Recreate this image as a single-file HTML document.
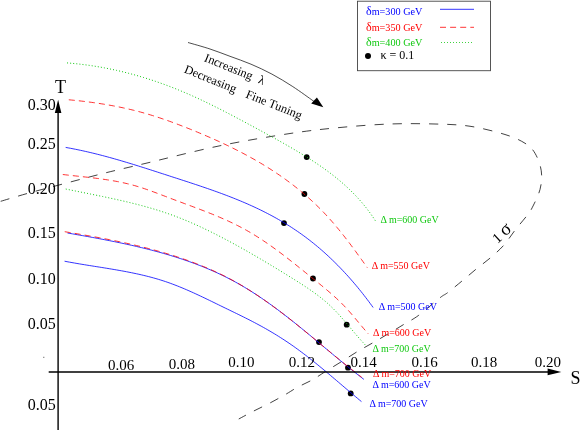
<!DOCTYPE html>
<html><head><meta charset="utf-8"><title>S-T plot</title>
<style>
html,body{margin:0;padding:0;background:#fff;}
body{width:581px;height:430px;overflow:hidden;font-family:"Liberation Serif",serif;}
svg{display:block;position:absolute;left:0;top:0;will-change:transform;}
svg text{font-family:"Liberation Serif",serif;}
</style></head><body>
<svg width="581" height="430" viewBox="0 0 581 430">
<rect width="581" height="430" fill="#fff"/>
<path d="M0.70,201.30 C5.12,200.00 17.48,196.22 27.20,193.50 C36.92,190.78 46.03,188.42 59.00,185.00 C71.97,181.58 90.67,176.58 105.00,173.00 C119.33,169.42 125.83,168.04 145.00,163.50 C164.17,158.96 195.83,150.75 220.00,145.75 C244.17,140.75 270.00,136.54 290.00,133.50 C310.00,130.46 323.33,129.08 340.00,127.50 C356.67,125.92 374.17,124.58 390.00,124.00 C405.83,123.42 421.67,123.62 435.00,124.00 C448.33,124.38 458.33,124.50 470.00,126.25 C481.67,128.00 495.83,131.67 505.00,134.50 C514.17,137.33 520.00,140.12 525.00,143.25 C530.00,146.38 532.29,148.67 535.00,153.25 C537.71,157.83 540.42,164.71 541.25,170.75 C542.08,176.79 541.67,183.04 540.00,189.50 C538.33,195.96 533.54,205.00 531.25,209.50 C528.96,214.00 528.96,213.04 526.25,216.50 C523.54,219.96 518.75,225.46 515.00,230.25 C511.25,235.04 507.83,240.67 503.75,245.25 C499.67,249.83 495.08,253.79 490.50,257.75 C485.92,261.71 481.00,265.12 476.25,269.00 C471.50,272.88 466.79,277.04 462.00,281.00 C457.21,284.96 451.17,289.96 447.50,292.75 C443.83,295.54 444.79,294.00 440.00,297.75 C435.21,301.50 424.67,310.88 418.75,315.25 C412.83,319.62 409.50,320.96 404.50,324.00 C399.50,327.04 394.08,330.33 388.75,333.50 C383.42,336.67 377.71,340.00 372.50,343.00 C367.29,346.00 362.50,348.50 357.50,351.50 C352.50,354.50 347.71,357.75 342.50,361.00 C337.29,364.25 331.25,367.88 326.25,371.00 C321.25,374.12 317.29,377.04 312.50,379.75 C307.71,382.46 301.88,384.88 297.50,387.25 C293.12,389.62 290.83,391.38 286.25,394.00 C281.67,396.62 275.42,400.17 270.00,403.00 C264.58,405.83 258.96,408.33 253.75,411.00 C248.54,413.67 241.25,417.67 238.75,419.00" fill="none" stroke="#111" stroke-width="0.8" stroke-dasharray="9.2 9"/>
<circle cx="306.70" cy="157.10" r="2.9" fill="#000"/>
<circle cx="304.40" cy="194.00" r="2.9" fill="#000"/>
<circle cx="284.00" cy="223.10" r="2.9" fill="#000"/>
<circle cx="313.00" cy="278.50" r="2.9" fill="#000"/>
<circle cx="346.70" cy="324.70" r="2.9" fill="#000"/>
<circle cx="319.00" cy="342.10" r="2.9" fill="#000"/>
<circle cx="348.00" cy="367.70" r="2.9" fill="#000"/>
<circle cx="350.70" cy="393.40" r="2.9" fill="#000"/>
<path d="M67.04,62.92 L69.55,63.12 L72.04,63.34 L74.54,63.58 L77.04,63.83 L79.53,64.11 L82.02,64.40 L84.51,64.71 L87.00,65.04 L89.48,65.39 L91.96,65.75 L94.44,66.14 L96.92,66.54 L99.39,66.96 L101.86,67.39 L104.33,67.85 L106.79,68.32 L109.25,68.81 L111.71,69.31 L114.16,69.84 L116.61,70.38 L119.06,70.93 L121.50,71.51 L123.94,72.10 L126.37,72.71 L128.80,73.33 L131.23,73.97 L133.65,74.63 L136.06,75.30 L138.48,75.99 L140.88,76.69 L143.29,77.41 L145.68,78.15 L148.08,78.90 L150.47,79.66 L152.85,80.45 L155.23,81.24 L157.60,82.06 L159.97,82.88 L162.33,83.73 L164.69,84.58 L167.04,85.45 L169.39,86.34 L171.73,87.24 L174.06,88.15 L176.39,89.08 L178.72,90.03 L181.04,90.98 L183.35,91.95 L185.66,92.94 L187.96,93.93 L190.26,94.94 L192.55,95.96 L194.84,96.99 L197.12,98.04 L199.39,99.09 L201.66,100.15 L203.93,101.23 L206.19,102.31 L208.45,103.40 L210.71,104.50 L212.96,105.61 L215.20,106.73 L217.44,107.85 L219.68,108.98 L221.92,110.12 L224.15,111.27 L226.38,112.42 L228.61,113.57 L230.83,114.73 L233.05,115.90 L235.27,117.07 L237.49,118.24 L239.70,119.42 L241.92,120.60 L244.13,121.78 L246.34,122.97 L248.55,124.15 L250.76,125.34 L252.97,126.53 L255.17,127.72 L257.38,128.92 L259.59,130.11 L261.79,131.31 L263.99,132.51 L266.20,133.71 L268.40,134.91 L270.60,136.12 L272.79,137.33 L274.99,138.54 L277.18,139.76 L279.37,140.98 L281.56,142.21 L283.74,143.45 L285.92,144.69 L288.10,145.93 L290.27,147.19 L292.44,148.45 L294.60,149.71 L296.76,150.99 L298.92,152.28 L301.07,153.57 L303.21,154.88 L305.34,156.20 L307.47,157.53 L309.59,158.87 L311.70,160.22 L313.80,161.59 L315.89,162.98 L317.97,164.37 L320.05,165.79 L322.11,167.22 L324.15,168.67 L326.19,170.14 L328.21,171.62 L330.22,173.13 L332.21,174.65 L334.19,176.19 L336.15,177.76 L338.09,179.34 L340.02,180.95 L341.92,182.58 L343.81,184.23 L345.68,185.91 L347.52,187.61 L349.35,189.33 L351.15,191.08 L352.92,192.85 L354.68,194.64 L356.41,196.46 L358.11,198.30 L359.79,200.16 L361.44,202.05 L363.06,203.97 L364.65,205.90 L366.22,207.86 L367.75,209.85 L369.26,211.85 L370.73,213.88 L372.17,215.94 L373.58,218.01 L374.96,220.11 L376.30,222.23" fill="none" stroke="#10c810" stroke-width="1" stroke-dasharray="1 2.1"/>
<path d="M65.75,189.02 L68.21,189.53 L70.67,190.03 L73.13,190.53 L75.60,191.03 L78.06,191.53 L80.52,192.03 L82.98,192.53 L85.45,193.02 L87.91,193.52 L90.37,194.01 L92.83,194.51 L95.29,195.01 L97.75,195.52 L100.21,196.02 L102.67,196.53 L105.13,197.05 L107.59,197.57 L110.05,198.09 L112.50,198.62 L114.96,199.16 L117.41,199.70 L119.86,200.25 L122.31,200.81 L124.76,201.38 L127.20,201.95 L129.64,202.54 L132.08,203.14 L134.52,203.74 L136.95,204.36 L139.39,204.99 L141.81,205.64 L144.24,206.29 L146.66,206.97 L149.08,207.65 L151.49,208.35 L153.90,209.06 L156.30,209.79 L158.70,210.54 L161.09,211.30 L163.48,212.08 L165.86,212.88 L168.24,213.70 L170.60,214.54 L172.97,215.39 L175.32,216.27 L177.67,217.16 L180.01,218.07 L182.34,219.00 L184.67,219.95 L186.99,220.91 L189.30,221.89 L191.61,222.89 L193.91,223.90 L196.20,224.92 L198.49,225.96 L200.77,227.01 L203.04,228.08 L205.31,229.16 L207.58,230.25 L209.83,231.35 L212.08,232.46 L214.33,233.58 L216.57,234.72 L218.81,235.86 L221.04,237.02 L223.27,238.18 L225.49,239.35 L227.71,240.53 L229.92,241.71 L232.13,242.90 L234.34,244.11 L236.54,245.31 L238.74,246.53 L240.94,247.75 L243.13,248.97 L245.32,250.21 L247.50,251.45 L249.68,252.69 L251.86,253.94 L254.04,255.20 L256.21,256.46 L258.38,257.73 L260.54,259.00 L262.71,260.28 L264.87,261.56 L267.03,262.84 L269.18,264.13 L271.33,265.43 L273.48,266.73 L275.63,268.03 L277.78,269.33 L279.92,270.64 L282.06,271.95 L284.20,273.27 L286.34,274.59 L288.48,275.91 L290.61,277.23 L292.75,278.56 L294.88,279.89 L297.00,281.22 L299.13,282.57 L301.24,283.92 L303.35,285.29 L305.45,286.67 L307.54,288.06 L309.61,289.48 L311.68,290.91 L313.73,292.36 L315.76,293.84 L317.77,295.34 L319.77,296.87 L321.74,298.43 L323.69,300.01 L325.61,301.63 L327.50,303.28 L329.37,304.96 L331.20,306.68 L333.00,308.43 L334.77,310.22 L336.51,312.03 L338.22,313.86 L339.91,315.72 L341.58,317.60 L343.24,319.49 L344.88,321.39 L346.51,323.30 L348.13,325.22 L349.75,327.14 L351.36,329.06 L352.98,330.99 L354.60,332.91 L356.23,334.82 L357.86,336.72 L359.51,338.62 L361.18,340.50 L362.87,342.36 L364.57,344.20 L366.30,346.02" fill="none" stroke="#10c810" stroke-width="1" stroke-dasharray="1 2.1"/>
<path d="M65.66,147.42 L68.12,147.86 L70.58,148.31 L73.04,148.79 L75.50,149.27 L77.95,149.77 L80.40,150.29 L82.85,150.82 L85.30,151.36 L87.74,151.92 L90.18,152.49 L92.61,153.07 L95.05,153.67 L97.48,154.28 L99.90,154.89 L102.33,155.52 L104.75,156.16 L107.17,156.81 L109.58,157.47 L112.00,158.14 L114.41,158.82 L116.82,159.51 L119.22,160.20 L121.63,160.90 L124.03,161.61 L126.43,162.33 L128.82,163.05 L131.22,163.78 L133.61,164.51 L136.01,165.25 L138.40,166.00 L140.79,166.75 L143.18,167.50 L145.56,168.26 L147.95,169.02 L150.33,169.78 L152.72,170.55 L155.10,171.32 L157.49,172.09 L159.87,172.86 L162.25,173.63 L164.63,174.40 L167.02,175.17 L169.40,175.95 L171.78,176.72 L174.16,177.49 L176.55,178.26 L178.93,179.03 L181.31,179.80 L183.69,180.58 L186.08,181.35 L188.46,182.13 L190.83,182.91 L193.21,183.70 L195.59,184.49 L197.97,185.28 L200.34,186.08 L202.71,186.88 L205.08,187.69 L207.45,188.51 L209.81,189.33 L212.18,190.16 L214.54,191.00 L216.89,191.84 L219.25,192.70 L221.60,193.56 L223.95,194.44 L226.29,195.32 L228.63,196.22 L230.96,197.12 L233.29,198.04 L235.62,198.97 L237.94,199.91 L240.25,200.87 L242.56,201.83 L244.87,202.82 L247.16,203.81 L249.46,204.83 L251.74,205.85 L254.02,206.90 L256.29,207.96 L258.55,209.03 L260.80,210.12 L263.05,211.23 L265.28,212.36 L267.51,213.50 L269.73,214.67 L271.94,215.84 L274.14,217.04 L276.33,218.26 L278.51,219.49 L280.68,220.74 L282.83,222.01 L284.98,223.30 L287.12,224.61 L289.24,225.94 L291.35,227.29 L293.45,228.66 L295.53,230.05 L297.60,231.46 L299.66,232.88 L301.70,234.33 L303.73,235.80 L305.74,237.29 L307.74,238.80 L309.73,240.33 L311.70,241.87 L313.65,243.44 L315.59,245.02 L317.52,246.62 L319.43,248.24 L321.33,249.88 L323.21,251.53 L325.08,253.20 L326.93,254.88 L328.77,256.58 L330.59,258.30 L332.40,260.03 L334.20,261.78 L335.98,263.54 L337.75,265.31 L339.50,267.10 L341.24,268.90 L342.96,270.72 L344.67,272.55 L346.37,274.39 L348.05,276.24 L349.72,278.11 L351.37,279.99 L353.02,281.88 L354.64,283.79 L356.26,285.70 L357.86,287.63 L359.44,289.57 L361.02,291.52 L362.58,293.48 L364.12,295.45 L365.65,297.43 L367.17,299.42 L368.68,301.42 L370.17,303.43 L371.65,305.45 L373.12,307.48" fill="none" stroke="#0000ff" stroke-width="0.8"/>
<path d="M67.46,232.99 L69.94,233.42 L72.42,233.85 L74.90,234.29 L77.37,234.72 L79.85,235.16 L82.33,235.60 L84.81,236.04 L87.28,236.48 L89.76,236.93 L92.24,237.38 L94.71,237.84 L97.18,238.30 L99.66,238.77 L102.13,239.23 L104.60,239.71 L107.07,240.19 L109.54,240.67 L112.01,241.17 L114.48,241.66 L116.94,242.17 L119.40,242.68 L121.87,243.20 L124.33,243.72 L126.79,244.25 L129.24,244.80 L131.70,245.34 L134.15,245.90 L136.61,246.47 L139.06,247.05 L141.50,247.63 L143.95,248.23 L146.39,248.83 L148.83,249.45 L151.27,250.07 L153.70,250.71 L156.13,251.36 L158.56,252.02 L160.99,252.69 L163.41,253.37 L165.83,254.07 L168.24,254.78 L170.65,255.50 L173.06,256.23 L175.46,256.98 L177.86,257.75 L180.25,258.52 L182.64,259.32 L185.02,260.12 L187.40,260.94 L189.78,261.78 L192.14,262.63 L194.50,263.50 L196.86,264.39 L199.21,265.29 L201.55,266.21 L203.89,267.14 L206.22,268.10 L208.54,269.07 L210.85,270.06 L213.16,271.07 L215.45,272.09 L217.74,273.14 L220.02,274.20 L222.30,275.29 L224.56,276.39 L226.81,277.51 L229.05,278.66 L231.28,279.82 L233.50,281.00 L235.71,282.21 L237.91,283.43 L240.10,284.68 L242.27,285.94 L244.44,287.22 L246.59,288.52 L248.74,289.84 L250.87,291.17 L253.00,292.52 L255.11,293.88 L257.22,295.26 L259.31,296.66 L261.40,298.06 L263.47,299.48 L265.54,300.92 L267.60,302.36 L269.65,303.82 L271.69,305.29 L273.73,306.77 L275.76,308.26 L277.78,309.76 L279.79,311.27 L281.80,312.79 L283.80,314.32 L285.79,315.86 L287.78,317.40 L289.76,318.95 L291.73,320.51 L293.70,322.07 L295.67,323.64 L297.63,325.22 L299.59,326.80 L301.54,328.39 L303.49,329.98 L305.44,331.57 L307.38,333.17 L309.32,334.77 L311.26,336.38 L313.20,337.98 L315.13,339.59 L317.07,341.20 L319.00,342.82 L320.93,344.43 L322.86,346.04 L324.79,347.66 L326.72,349.27 L328.65,350.88 L330.59,352.50 L332.52,354.11 L334.45,355.72 L336.39,357.32 L338.33,358.93 L340.27,360.53 L342.21,362.13 L344.16,363.72 L346.11,365.31 L348.06,366.90 L350.02,368.48 L351.99,370.05 L353.95,371.62 L355.93,373.18 L357.90,374.74 L359.89,376.29 L361.88,377.83 L363.87,379.36" fill="none" stroke="#0000ff" stroke-width="0.8"/>
<path d="M64.57,261.21 L67.04,261.69 L69.52,262.15 L71.99,262.59 L74.47,263.03 L76.95,263.46 L79.42,263.88 L81.91,264.30 L84.39,264.70 L86.87,265.11 L89.35,265.51 L91.83,265.90 L94.32,266.30 L96.80,266.69 L99.29,267.09 L101.77,267.48 L104.25,267.88 L106.73,268.28 L109.22,268.69 L111.70,269.10 L114.18,269.52 L116.66,269.94 L119.13,270.38 L121.61,270.82 L124.08,271.27 L126.55,271.74 L129.02,272.22 L131.49,272.71 L133.95,273.22 L136.41,273.74 L138.87,274.28 L141.32,274.83 L143.77,275.41 L146.21,276.00 L148.65,276.62 L151.08,277.26 L153.51,277.92 L155.93,278.60 L158.34,279.31 L160.74,280.05 L163.14,280.81 L165.53,281.60 L167.91,282.42 L170.27,283.26 L172.63,284.13 L174.99,285.02 L177.33,285.93 L179.66,286.87 L181.99,287.82 L184.31,288.79 L186.62,289.78 L188.93,290.79 L191.23,291.81 L193.52,292.84 L195.81,293.89 L198.09,294.94 L200.36,296.01 L202.64,297.09 L204.91,298.17 L207.17,299.26 L209.44,300.35 L211.70,301.45 L213.96,302.55 L216.22,303.66 L218.48,304.76 L220.74,305.86 L223.00,306.97 L225.26,308.07 L227.52,309.17 L229.79,310.26 L232.05,311.36 L234.31,312.46 L236.57,313.56 L238.83,314.66 L241.09,315.77 L243.34,316.89 L245.59,318.01 L247.84,319.14 L250.08,320.28 L252.31,321.44 L254.54,322.60 L256.76,323.78 L258.98,324.97 L261.19,326.17 L263.39,327.39 L265.58,328.62 L267.76,329.87 L269.94,331.13 L272.10,332.41 L274.26,333.70 L276.41,335.01 L278.54,336.34 L280.67,337.68 L282.79,339.04 L284.89,340.41 L286.99,341.80 L289.07,343.21 L291.15,344.63 L293.21,346.07 L295.26,347.53 L297.29,349.00 L299.32,350.49 L301.34,351.99 L303.35,353.50 L305.35,355.03 L307.34,356.56 L309.32,358.11 L311.30,359.66 L313.27,361.23 L315.23,362.80 L317.18,364.39 L319.13,365.98 L321.08,367.57 L323.02,369.17 L324.95,370.78 L326.88,372.39 L328.80,374.01 L330.73,375.63 L332.65,377.25 L334.57,378.88 L336.48,380.51 L338.40,382.14 L340.31,383.77 L342.23,385.40 L344.14,387.03 L346.05,388.66 L347.97,390.29 L349.89,391.92 L351.81,393.54 L353.73,395.16 L355.66,396.78 L357.59,398.39 L359.52,400.00 L361.46,401.60" fill="none" stroke="#0000ff" stroke-width="0.8"/>
<path d="M68.79,99.79 L71.30,100.03 L73.80,100.27 L76.30,100.53 L78.80,100.79 L81.30,101.07 L83.79,101.37 L86.29,101.67 L88.78,101.99 L91.27,102.32 L93.76,102.66 L96.25,103.02 L98.74,103.39 L101.22,103.77 L103.70,104.17 L106.18,104.59 L108.66,105.02 L111.13,105.46 L113.60,105.92 L116.07,106.39 L118.53,106.88 L121.00,107.39 L123.45,107.92 L125.91,108.46 L128.36,109.01 L130.81,109.59 L133.25,110.18 L135.69,110.79 L138.12,111.42 L140.55,112.07 L142.97,112.73 L145.39,113.42 L147.80,114.12 L150.21,114.84 L152.61,115.58 L155.01,116.33 L157.40,117.11 L159.79,117.89 L162.17,118.70 L164.55,119.51 L166.92,120.34 L169.29,121.19 L171.65,122.04 L174.01,122.91 L176.36,123.79 L178.71,124.69 L181.06,125.59 L183.40,126.50 L185.74,127.42 L188.08,128.35 L190.41,129.28 L192.74,130.22 L195.07,131.17 L197.39,132.13 L199.71,133.10 L202.03,134.07 L204.34,135.06 L206.65,136.05 L208.96,137.05 L211.26,138.06 L213.55,139.07 L215.85,140.10 L218.14,141.14 L220.42,142.19 L222.70,143.25 L224.98,144.32 L227.24,145.40 L229.51,146.49 L231.77,147.59 L234.02,148.71 L236.27,149.83 L238.51,150.97 L240.74,152.12 L242.97,153.29 L245.19,154.47 L247.40,155.66 L249.61,156.86 L251.81,158.08 L254.00,159.31 L256.18,160.55 L258.36,161.81 L260.52,163.09 L262.68,164.37 L264.83,165.68 L266.97,167.00 L269.10,168.33 L271.22,169.68 L273.33,171.05 L275.43,172.43 L277.52,173.83 L279.59,175.25 L281.66,176.68 L283.71,178.13 L285.76,179.59 L287.79,181.07 L289.81,182.57 L291.81,184.08 L293.80,185.61 L295.78,187.16 L297.75,188.73 L299.70,190.31 L301.64,191.91 L303.57,193.53 L305.48,195.16 L307.37,196.81 L309.25,198.48 L311.12,200.16 L312.96,201.87 L314.80,203.59 L316.61,205.33 L318.41,207.08 L320.19,208.85 L321.96,210.64 L323.70,212.45 L325.43,214.28 L327.14,216.12 L328.84,217.97 L330.51,219.85 L332.17,221.73 L333.82,223.63 L335.45,225.55 L337.06,227.47 L338.66,229.41 L340.25,231.36 L341.83,233.32 L343.39,235.28 L344.94,237.26 L346.48,239.25 L348.02,241.24 L349.54,243.24 L351.05,245.25 L352.55,247.26 L354.05,249.28 L355.54,251.30 L357.02,253.33 L358.50,255.37 L359.97,257.40 L361.44,259.44 L362.90,261.49 L364.37,263.53 L365.82,265.58 L367.28,267.63" fill="none" stroke="#ff0000" stroke-width="0.8" stroke-dasharray="6 4.1"/>
<path d="M62.80,174.52 L65.29,174.81 L67.79,175.09 L70.29,175.37 L72.78,175.64 L75.28,175.91 L77.78,176.18 L80.28,176.45 L82.78,176.73 L85.27,177.00 L87.77,177.28 L90.27,177.57 L92.76,177.86 L95.26,178.17 L97.75,178.49 L100.24,178.81 L102.73,179.16 L105.21,179.52 L107.70,179.89 L110.18,180.29 L112.66,180.71 L115.13,181.14 L117.60,181.60 L120.07,182.09 L122.53,182.61 L124.98,183.15 L127.43,183.72 L129.86,184.32 L132.29,184.96 L134.72,185.63 L137.13,186.34 L139.53,187.08 L141.92,187.84 L144.31,188.63 L146.68,189.45 L149.05,190.28 L151.42,191.13 L153.78,191.99 L156.13,192.87 L158.48,193.76 L160.83,194.65 L163.18,195.55 L165.52,196.45 L167.87,197.35 L170.22,198.24 L172.57,199.13 L174.92,200.01 L177.27,200.89 L179.63,201.77 L181.99,202.64 L184.34,203.52 L186.70,204.39 L189.05,205.27 L191.41,206.14 L193.76,207.02 L196.11,207.90 L198.46,208.79 L200.81,209.69 L203.16,210.59 L205.50,211.50 L207.84,212.42 L210.17,213.34 L212.50,214.28 L214.83,215.23 L217.15,216.20 L219.46,217.18 L221.77,218.17 L224.07,219.18 L226.37,220.20 L228.65,221.25 L230.93,222.31 L233.20,223.39 L235.45,224.50 L237.70,225.62 L239.93,226.77 L242.16,227.94 L244.37,229.13 L246.56,230.35 L248.75,231.60 L250.92,232.87 L253.07,234.16 L255.22,235.47 L257.35,236.80 L259.46,238.15 L261.57,239.52 L263.66,240.91 L265.74,242.32 L267.82,243.74 L269.88,245.18 L271.93,246.63 L273.97,248.09 L276.00,249.57 L278.02,251.06 L280.04,252.56 L282.05,254.07 L284.05,255.59 L286.04,257.12 L288.03,258.66 L290.01,260.21 L291.98,261.76 L293.96,263.32 L295.92,264.88 L297.89,266.45 L299.85,268.02 L301.80,269.59 L303.76,271.17 L305.72,272.75 L307.67,274.33 L309.62,275.91 L311.58,277.49 L313.53,279.07 L315.49,280.64 L317.44,282.22 L319.39,283.80 L321.34,285.39 L323.29,286.98 L325.22,288.59 L327.15,290.20 L329.06,291.83 L330.97,293.47 L332.85,295.12 L334.73,296.80 L336.58,298.49 L338.42,300.21 L340.23,301.95 L342.02,303.72 L343.78,305.51 L345.51,307.33 L347.22,309.17 L348.90,311.04 L350.55,312.93 L352.19,314.83 L353.82,316.75 L355.43,318.67 L357.04,320.60 L358.65,322.54 L360.26,324.47 L361.87,326.40 L363.49,328.32 L365.12,330.23 L366.77,332.12 L368.43,334.00" fill="none" stroke="#ff0000" stroke-width="0.8" stroke-dasharray="6 4.1"/>
<path d="M64.74,231.71 L67.23,232.12 L69.71,232.53 L72.19,232.95 L74.68,233.36 L77.16,233.78 L79.64,234.21 L82.12,234.63 L84.60,235.06 L87.08,235.50 L89.56,235.94 L92.03,236.38 L94.51,236.83 L96.99,237.29 L99.46,237.75 L101.94,238.22 L104.41,238.69 L106.88,239.17 L109.35,239.65 L111.82,240.15 L114.28,240.64 L116.75,241.15 L119.21,241.67 L121.68,242.19 L124.14,242.72 L126.59,243.26 L129.05,243.81 L131.51,244.36 L133.96,244.93 L136.41,245.51 L138.86,246.09 L141.30,246.69 L143.75,247.29 L146.19,247.91 L148.62,248.54 L151.06,249.17 L153.49,249.82 L155.92,250.49 L158.34,251.16 L160.77,251.84 L163.18,252.54 L165.60,253.25 L168.01,253.98 L170.42,254.71 L172.82,255.46 L175.22,256.23 L177.61,257.01 L180.00,257.80 L182.38,258.61 L184.76,259.43 L187.14,260.27 L189.51,261.12 L191.87,261.99 L194.22,262.87 L196.57,263.77 L198.92,264.69 L201.26,265.62 L203.59,266.58 L205.91,267.54 L208.22,268.53 L210.53,269.53 L212.83,270.56 L215.13,271.60 L217.41,272.66 L219.68,273.73 L221.95,274.83 L224.21,275.95 L226.45,277.08 L228.69,278.24 L230.91,279.41 L233.13,280.61 L235.33,281.82 L237.53,283.06 L239.71,284.31 L241.88,285.58 L244.04,286.87 L246.19,288.18 L248.34,289.50 L250.47,290.84 L252.59,292.20 L254.70,293.57 L256.80,294.95 L258.89,296.35 L260.98,297.76 L263.05,299.19 L265.12,300.63 L267.17,302.08 L269.22,303.54 L271.26,305.01 L273.30,306.50 L275.32,307.99 L277.34,309.49 L279.36,311.00 L281.36,312.52 L283.36,314.05 L285.35,315.59 L287.34,317.13 L289.32,318.69 L291.30,320.24 L293.27,321.81 L295.24,323.38 L297.21,324.95 L299.17,326.53 L301.12,328.11 L303.07,329.70 L305.02,331.29 L306.97,332.89 L308.92,334.49 L310.86,336.09 L312.80,337.69 L314.74,339.30 L316.68,340.90 L318.62,342.51 L320.55,344.11 L322.49,345.72 L324.43,347.33 L326.36,348.94 L328.30,350.54 L330.24,352.14 L332.18,353.75 L334.13,355.35 L336.07,356.94 L338.02,358.54 L339.97,360.13 L341.93,361.72 L343.88,363.30 L345.84,364.88 L347.81,366.45 L349.78,368.02 L351.75,369.58 L353.73,371.13 L355.72,372.68 L357.71,374.22 L359.71,375.75 L361.71,377.27" fill="none" stroke="#ff0000" stroke-width="0.8" stroke-dasharray="6 4.1"/>
<line x1="58.1" y1="111" x2="58.1" y2="430" stroke="#000" stroke-width="1.4"/>
<polygon points="58.1,99.7 61.4,112.9 54.8,112.9" fill="#000"/>
<line x1="48.7" y1="371.95" x2="549" y2="371.95" stroke="#000" stroke-width="1.45"/>
<polygon points="561.3,371.9 547.6,368.5 547.6,375.3" fill="#000"/>
<path d="M188.00,42.50 C191.67,43.58 203.00,46.70 210.00,49.00 C217.00,51.30 223.17,53.77 230.00,56.30 C236.83,58.83 244.02,61.23 251.00,64.20 C257.98,67.17 264.93,70.37 271.90,74.10 C278.87,77.83 285.82,82.07 292.80,86.60 C299.78,91.13 309.43,98.23 313.80,101.30 C318.17,104.37 318.13,104.38 319.00,105.00" fill="none" stroke="#000" stroke-width="0.7"/>
<polygon points="323.3,107.2 311.2,103.6 316.9,97.5" fill="#000"/>
<rect x="43.3" y="356.8" width="1" height="1" fill="#444"/>
<rect x="357.5" y="1.2" width="133" height="69.5" fill="#fff" stroke="#444" stroke-width="0.9"/>
<line x1="440" y1="9.3" x2="474" y2="9.3" stroke="#0000ff" stroke-width="0.8"/>
<line x1="440" y1="27.3" x2="474" y2="27.3" stroke="#ff0000" stroke-width="0.8" stroke-dasharray="6 4.1"/>
<line x1="441" y1="42.5" x2="473.5" y2="42.5" stroke="#10c810" stroke-width="0.8" stroke-dasharray="1 2"/>
<circle cx="368" cy="56" r="3" fill="#000"/>
<text x="366.00" y="15.20"  font-size="10.20" fill="#0000ff" text-anchor="start" ><tspan font-size="12">δ</tspan>m=300 GeV</text>
<text x="366.00" y="30.70"  font-size="10.20" fill="#ff0000" text-anchor="start" ><tspan font-size="12">δ</tspan>m=350 GeV</text>
<text x="366.00" y="45.80"  font-size="10.20" fill="#10c810" text-anchor="start" ><tspan font-size="12">δ</tspan>m=400 GeV</text>
<text x="380.50" y="58.80"  font-size="12.00" fill="#000" text-anchor="start" >κ = 0.1</text>
<text x="380.50" y="222.75"  font-size="10.00" fill="#10c810" text-anchor="start" >Δ m=600 GeV</text>
<text x="371.75" y="269.00"  font-size="10.00" fill="#ff0000" text-anchor="start" >Δ m=550 GeV</text>
<text x="378.75" y="310.25"  font-size="10.00" fill="#0000ff" text-anchor="start" >Δ m=500 GeV</text>
<text x="373.00" y="335.50"  font-size="10.00" fill="#ff0000" text-anchor="start" >Δ m=600 GeV</text>
<text x="372.50" y="351.50"  font-size="10.00" fill="#10c810" text-anchor="start" >Δ m=700 GeV</text>
<text x="373.00" y="377.25"  font-size="10.00" fill="#ff0000" text-anchor="start" >Δ m=700 GeV</text>
<text x="372.50" y="388.00"  font-size="10.00" fill="#0000ff" text-anchor="start" >Δ m=600 GeV</text>
<text x="369.50" y="406.75"  font-size="10.00" fill="#0000ff" text-anchor="start" >Δ m=700 GeV</text>
<text x="55.00" y="92.50"  font-size="18.00" fill="#000" text-anchor="start" >T</text>
<text x="570.40" y="383.50"  font-size="18.00" fill="#000" text-anchor="start" >S</text>
<text x="55.80" y="110.20"  font-size="16.00" fill="#000" text-anchor="end" >0.30</text>
<text x="55.80" y="149.00"  font-size="16.00" fill="#000" text-anchor="end" >0.25</text>
<text x="55.80" y="193.70"  font-size="16.00" fill="#000" text-anchor="end" >0.20</text>
<text x="55.80" y="237.70"  font-size="16.00" fill="#000" text-anchor="end" >0.15</text>
<text x="55.80" y="284.30"  font-size="16.00" fill="#000" text-anchor="end" >0.10</text>
<text x="55.80" y="328.70"  font-size="16.00" fill="#000" text-anchor="end" >0.05</text>
<text x="55.80" y="410.25"  font-size="16.00" fill="#000" text-anchor="end" >0.05</text>
<text x="121.10" y="369.75"  font-size="15.00" fill="#000" text-anchor="middle" >0.06</text>
<text x="181.90" y="368.50"  font-size="15.00" fill="#000" text-anchor="middle" >0.08</text>
<text x="241.25" y="367.25"  font-size="15.00" fill="#000" text-anchor="middle" >0.10</text>
<text x="301.80" y="366.75"  font-size="15.00" fill="#000" text-anchor="middle" >0.12</text>
<text x="363.50" y="366.75"  font-size="15.00" fill="#000" text-anchor="middle" >0.14</text>
<text x="424.50" y="366.75"  font-size="15.00" fill="#000" text-anchor="middle" >0.16</text>
<text x="484.00" y="366.75"  font-size="15.00" fill="#000" text-anchor="middle" >0.18</text>
<text x="547.90" y="366.75"  font-size="15.00" fill="#000" text-anchor="middle" >0.20</text>
<text transform="translate(203.6,61) rotate(22)"  font-size="12.25" fill="#000" xml:space="preserve">Increasing  <tspan dx="1">λ</tspan></text>
<text transform="translate(183.5,72.3) rotate(22)"  font-size="12.25" fill="#000" xml:space="preserve">Decreasing   <tspan dx="2">Fine Tuning</tspan></text>
<text transform="translate(497.4,243.9) rotate(-42)"  font-size="14.5" fill="#000">1<tspan dx="3.3" font-size="18.5">σ</tspan></text>
</svg>
</body></html>
